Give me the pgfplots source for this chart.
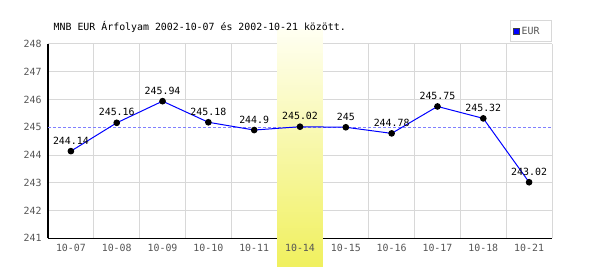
\documentclass[border=0pt]{standalone}
\usepackage{pgfplots}
\pgfplotsset{compat=1.18}
\usepackage{fontspec}
\setmonofont{DejaVu Sans Mono}
\definecolor{gridgray}{HTML}{D8D8D8}
\definecolor{tickgray}{HTML}{555555}
\definecolor{dashblue}{rgb}{0.5,0.5,1}
\definecolor{bandtop}{HTML}{FFFFF2}
\definecolor{bandbot}{HTML}{F0F05E}
\newcommand{\mono}{\ttfamily\fontsize{9.9bp}{11bp}\selectfont}
\pgfdeclarelayer{band}
\pgfplotsset{
  layers/mylayers/.define layer set={
    axis background,axis grid,axis ticks,axis lines,band,axis tick labels,pre main,main,axis descriptions,axis foreground
  }{
    grid style={/pgfplots/on layer=axis grid},
    tick style={/pgfplots/on layer=axis ticks},
    axis line style={/pgfplots/on layer=axis lines},
    label style={/pgfplots/on layer=axis descriptions},
    legend style={/pgfplots/on layer=axis descriptions},
    title style={/pgfplots/on layer=axis descriptions},
    colorbar style={/pgfplots/on layer=axis descriptions},
    ticklabel style={/pgfplots/on layer=axis tick labels},
    axis background@ style={/pgfplots/on layer=axis background},
    3d box foreground style={/pgfplots/on layer=axis foreground},
  },
}
\pgfplotstableread{
x y label
0 244.14 244.14
1 245.16 245.16
2 245.94 245.94
3 245.18 245.18
4 244.9 244.9
5 245.02 245.02
6 245 245
7 244.78 244.78
8 245.75 245.75
9 245.32 245.32
10 243.02 243.02
}\eurdata
\begin{document}
\begin{tikzpicture}
\begin{axis}[
  set layers=mylayers,
  at={(48bp,31.7bp)}, anchor=south west,
  scale only axis, width=504bp, height=194.3bp,
  xmin=-0.5, xmax=10.5, ymin=241, ymax=248,
  xtick={0,...,10},
  xticklabels={10-07,10-08,10-09,10-10,10-11,10-14,10-15,10-16,10-17,10-18,10-21},
  minor xtick={-0.5,0.5,...,10.5},
  ytick={241,242,243,244,246,247,248},
  extra y ticks={245}, extra y tick style={grid=none},
  xminorgrids=true, ymajorgrids=true, xmajorgrids=false,
  grid style={gridgray, line width=1bp},
  minor grid style={gridgray, line width=1bp},
  major tick length=0pt, minor tick length=0pt,
  axis x line*=bottom, axis y line*=left,
  axis line style={black, line width=1.3bp, -},
  ticklabel style={font=\mono, text=tickgray},
  xticklabel style={anchor=base, yshift=-13.5bp},
  yticklabel style={anchor=east, xshift=-3bp},
  /pgf/number format/assume math mode=true,
  clip=false,
  legend style={at={(1,1)}, anchor=south east, yshift=2bp, draw=gridgray, line width=1bp, font=\mono, text=tickgray, inner xsep=2bp, inner ysep=4bp},
  legend image code/.code={\draw[fill=blue, draw=darkgray, line width=0.8bp] (0bp,-3bp) rectangle (6bp,3bp);},
]
\begin{pgfonlayer}{band}
\shade[top color=bandtop, bottom color=bandbot] (axis cs:4.5,248.54) rectangle (axis cs:5.5,239.97);
\end{pgfonlayer}
\draw[draw=dashblue, line width=1.2bp, dash pattern=on 3bp off 2bp] (axis cs:-0.5,245) -- (axis cs:10.5,245);
\addplot[color=blue, line width=1bp, mark=*, mark size=2.8bp, mark options={fill=black, draw=black, solid},
  nodes near coords, point meta=explicit symbolic,
  every node near coord/.append style={font=\mono, text=black, anchor=base, yshift=7bp}]
  table[x=x, y=y, meta=label] {\eurdata};
\addlegendentry{EUR\hspace*{8bp}}
\end{axis}
\node[anchor=base west, font=\mono, inner sep=0pt] at (53.5bp,239.5bp) {MNB EUR Árfolyam 2002-10-07 és 2002-10-21 között.};
\path (0,0) rectangle (600bp,270bp);
\end{tikzpicture}
\end{document}
